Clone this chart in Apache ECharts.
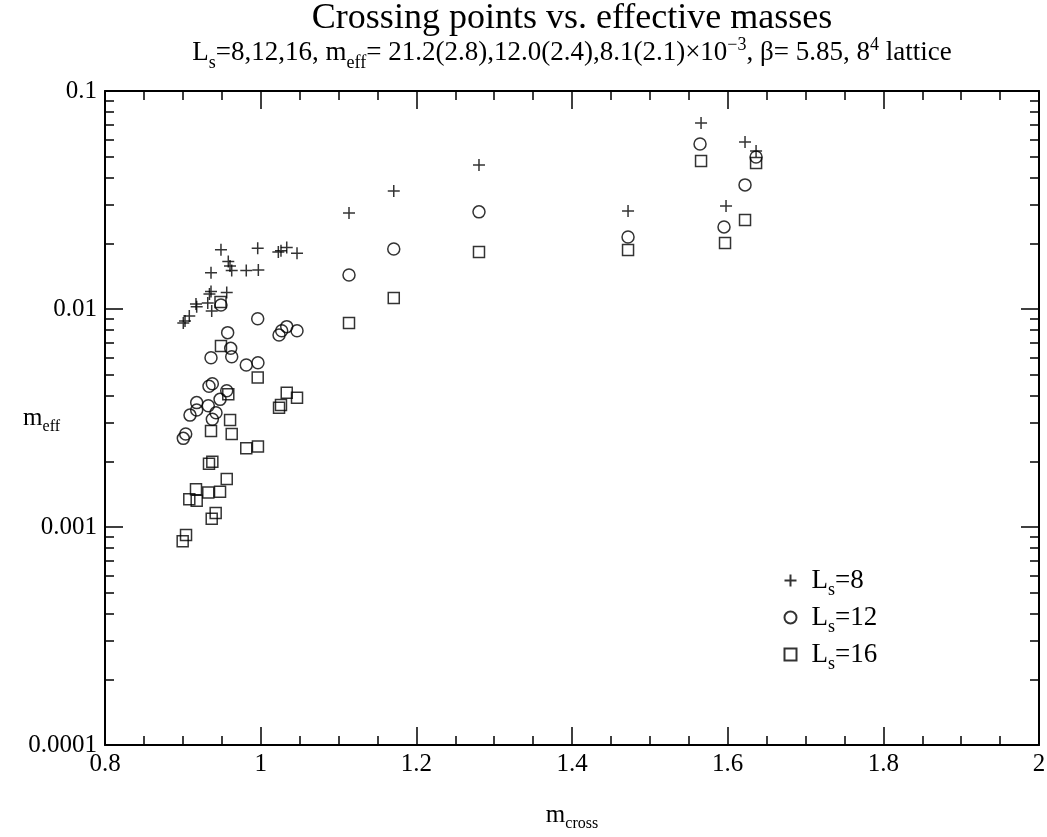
<!DOCTYPE html>
<html>
<head>
<meta charset="utf-8">
<script src="https://cdn.jsdelivr.net/npm/echarts@6/dist/echarts.min.js"></script>
<style>html,body{margin:0;padding:0;background:#fff}#chart{width:1047px;height:837px}</style>
</head>
<body>
<div id="chart"></div>
<script>
// ---- data ----
const seriesNames = ['L_s=8', 'L_s=12', 'L_s=16'];
const xL8 = [0.9006,0.9028,0.9083,0.9169,0.9178,0.932,0.9371,0.9362,0.9342,0.9564,0.9362,0.949,0.9584,0.9606,0.9628,0.9815,0.997,0.9962,1.0227,1.0261,1.0335,1.0467,1.1135,1.171,1.2805,1.472,1.5658,1.6223,1.6365,1.5979];
const yL8 = [0.00863,0.00881,0.00929,0.01054,0.01025,0.01065,0.00979,0.01203,0.01172,0.0119,0.01467,0.0187,0.01652,0.01575,0.01502,0.01502,0.0151,0.01898,0.01826,0.0185,0.01915,0.018,0.02756,0.0348,0.0458,0.02815,0.0713,0.0583,0.0531,0.0297];
const xL12 = [0.949,0.9962,0.9576,1.0335,1.027,1.0236,1.0467,0.9615,0.9362,0.9628,0.9815,0.9965,0.9379,0.9336,0.9564,0.9178,0.9478,0.9327,0.9178,0.9092,0.9426,0.9379,0.9037,0.9006,1.1135,1.171,1.2805,1.472,1.5645,1.6223,1.6365,1.5953];
const yL12 = [0.01043,0.00902,0.00779,0.0083,0.00795,0.0076,0.00795,0.0066,0.00598,0.00604,0.00553,0.00567,0.00454,0.00442,0.00422,0.00372,0.00385,0.0036,0.00344,0.00326,0.00334,0.00312,0.00267,0.00255,0.01432,0.01884,0.0279,0.0214,0.0571,0.0371,0.0498,0.0238];
const xL16 = [0.9484,0.949,0.9962,0.9584,1.0335,1.0467,1.0261,1.0236,0.9607,0.9362,0.9628,0.9815,0.9965,0.9379,0.9336,0.9564,0.9169,0.9327,0.9478,0.9083,0.9178,0.9422,0.9371,0.9041,0.8998,1.1135,1.171,1.2805,1.472,1.5658,1.6223,1.6365,1.5966];
const yL16 = [0.01077,0.00676,0.00485,0.00406,0.00413,0.00392,0.00363,0.00352,0.0031,0.00276,0.00267,0.0023,0.00234,0.00199,0.00195,0.00166,0.00149,0.00144,0.00145,0.00134,0.00132,0.00116,0.00109,0.00092,0.00086,0.00863,0.01123,0.01826,0.01866,0.0477,0.0256,0.0467,0.0201];
const xTickLabels = ['0.8','1','1.2','1.4','1.6','1.8','2'];
const yTickLabels = ['0.0001','0.001','0.01','0.1'];

// ---- chart ----
const FONT = '"Liberation Serif", "DejaVu Serif", serif';
const zip = (xs, ys) => xs.map((x, i) => [x, ys[i]]);
const chart = echarts.init(document.getElementById('chart'), null, {renderer: 'canvas'});

const richBase = {
  n: {fontFamily: FONT, fontSize: 25, color: '#000', lineHeight: 36},
  sub: {fontFamily: FONT, fontSize: 16, color: '#000', lineHeight: 16, verticalAlign: 'top', padding: [19, 0, 0, 0]}
};
const subRich = {
  n: {fontFamily: FONT, fontSize: 27, color: '#000', lineHeight: 40},
  sub: {fontFamily: FONT, fontSize: 18, color: '#000', lineHeight: 18, verticalAlign: 'top', padding: [21, 0, 0, 0]},
  sup: {fontFamily: FONT, fontSize: 18, color: '#000', lineHeight: 18, verticalAlign: 'top', padding: [3, 0, 0, 0]}
};
const legendRich = {
  L: {fontFamily: FONT, fontSize: 27, color: '#000', lineHeight: 37, padding: [0, 0, 0, 10]},
  n: {fontFamily: FONT, fontSize: 27, color: '#000', lineHeight: 37},
  sub: {fontFamily: FONT, fontSize: 18, color: '#000', lineHeight: 18, verticalAlign: 'top', padding: [19, 0, 0, 0]}
};

function fmtName(name) {
  const m = name.match(/^L_s=(\d+)$/);
  return '{L|L}{sub|s}{n|=' + m[1] + '}';
}

const axisLineStyle = {color: '#000', width: 2};
const tickStyle = {color: '#000', width: 1.5};

const baseX = {
  type: 'value', min: 0.8, max: 2, interval: 0.2,
  axisLine: {show: true, onZero: false, lineStyle: axisLineStyle},
  axisTick: {show: true, inside: true, length: 18, lineStyle: tickStyle},
  minorTick: {show: true, splitNumber: 4, length: 9, lineStyle: tickStyle},
  splitLine: {show: false}, minorSplitLine: {show: false}
};
const baseY = {
  type: 'log', logBase: 10, min: 0.0001, max: 0.1,
  axisLine: {show: true, onZero: false, lineStyle: axisLineStyle},
  axisTick: {show: true, inside: true, length: 18, lineStyle: tickStyle},
  minorTick: {show: true, splitNumber: 9, length: 9, lineStyle: tickStyle},
  splitLine: {show: false}, minorSplitLine: {show: false}
};

const option = {
  animation: false,
  backgroundColor: '#fff',
  title: [
    {text: 'Crossing points vs. effective masses', left: 572, top: 1, textAlign: 'center', padding: 0,
     textStyle: {fontFamily: FONT, fontSize: 36, fontWeight: 'normal', color: '#000'}},
    {text: '{n|L}{sub|s}{n|=8,12,16, m}{sub|eff}{n|= 21.2(2.8),12.0(2.4),8.1(2.1)×10}{sup|−3}{n|, β= 5.85, 8}{sup|4}{n| lattice}',
     left: 572, top: 33, textAlign: 'center', padding: 0,
     textStyle: {fontFamily: FONT, fontSize: 27, fontWeight: 'normal', color: '#000', rich: subRich}}
  ],
  grid: {left: 105, top: 91, right: 8, bottom: 92, containLabel: false, outerBoundsMode: 'none'},
  legend: {
    orient: 'vertical', left: 777, top: 557, itemGap: 0,
    itemWidth: 12, itemHeight: 12,
    data: seriesNames,
    formatter: fmtName,
    textStyle: {rich: legendRich},
    selectedMode: false
  },
  xAxis: [
    Object.assign({}, baseX, {
      position: 'bottom',
      axisLabel: {show: true, margin: 7, fontFamily: FONT, fontSize: 25, color: '#000',
        formatter: v => xTickLabels[Math.round((v - 0.8) / 0.2)]},
      name: '{n|m}{sub|cross}', nameLocation: 'middle', nameGap: 52, nameMoveOverlap: false,
      nameTextStyle: {rich: richBase}
    }),
    Object.assign({}, baseX, {position: 'top', axisLabel: {show: false}})
  ],
  yAxis: [
    Object.assign({}, baseY, {
      position: 'left',
      axisLabel: {show: true, margin: 8, fontFamily: FONT, fontSize: 25, color: '#000',
        formatter: v => yTickLabels[Math.round(Math.log10(v)) + 4]},
      name: '{n|m}{sub|eff}', nameLocation: 'middle', nameRotate: 0, nameGap: 45, nameMoveOverlap: false,
      nameTextStyle: {rich: richBase}
    }),
    Object.assign({}, baseY, {position: 'right', axisLabel: {show: false}})
  ],
  series: [
    {name: seriesNames[0], type: 'scatter', data: zip(xL8, yL8),
     symbol: 'path://M0,6L12,6M6,0L6,12', symbolSize: 12,
     itemStyle: {color: 'none', borderColor: '#000', borderWidth: 1.5}, emphasis: {disabled: true}},
    {name: seriesNames[1], type: 'scatter', data: zip(xL12, yL12),
     symbol: 'circle', symbolSize: 12,
     itemStyle: {color: 'none', borderColor: '#000', borderWidth: 1.5}, emphasis: {disabled: true}},
    {name: seriesNames[2], type: 'scatter', data: zip(xL16, yL16),
     symbol: 'rect', symbolSize: 11,
     itemStyle: {color: 'none', borderColor: '#000', borderWidth: 1.5}, emphasis: {disabled: true}}
  ]
};
chart.setOption(option);
</script>
</body>
</html>
